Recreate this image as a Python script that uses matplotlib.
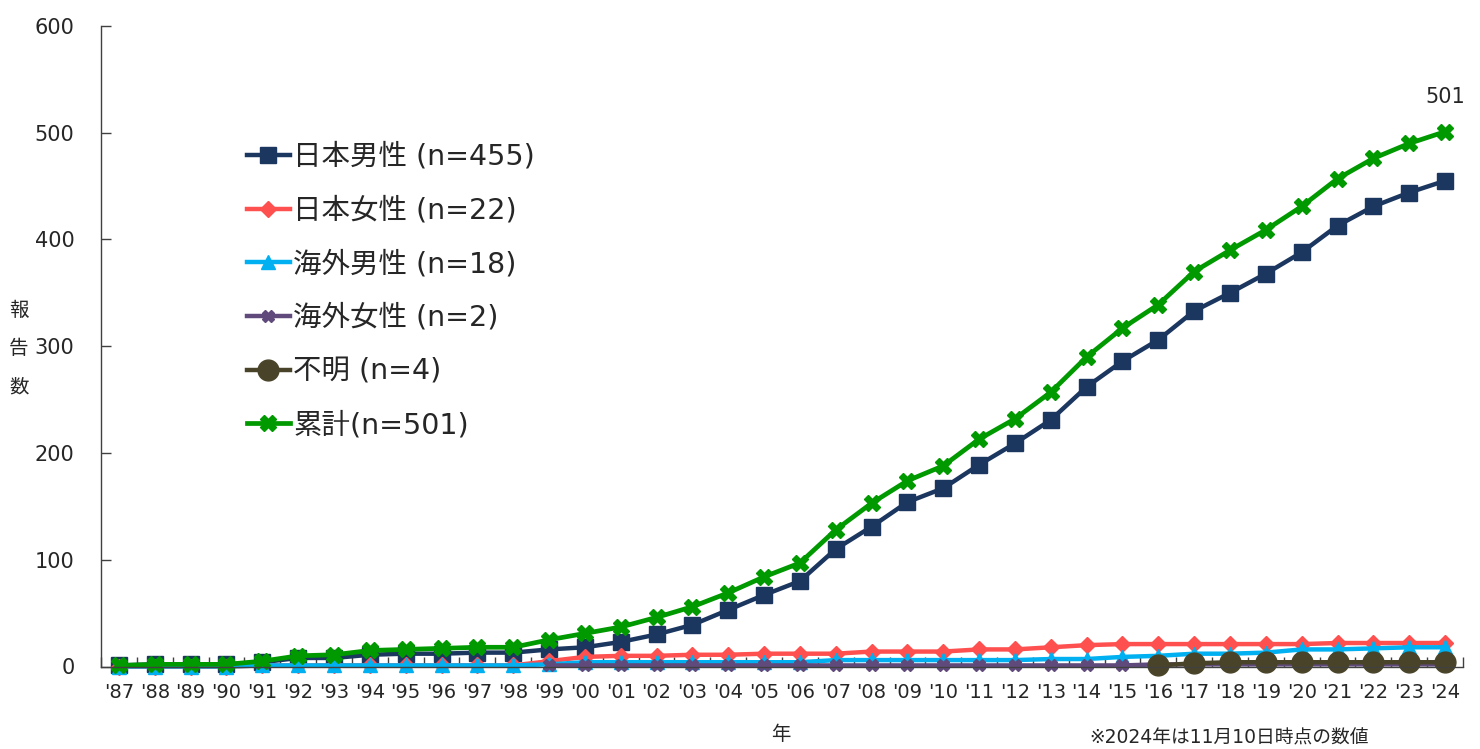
import matplotlib
matplotlib.use("Agg")
import matplotlib.pyplot as plt
import numpy as np

plt.rcParams['font.family'] = ['DejaVu Sans', 'Noto Sans CJK JP']

years = ["'87", "'88", "'89", "'90", "'91", "'92", "'93", "'94", "'95", "'96",
         "'97", "'98", "'99", "'00", "'01", "'02", "'03", "'04", "'05", "'06",
         "'07", "'08", "'09", "'10", "'11", "'12", "'13", "'14", "'15", "'16",
         "'17", "'18", "'19", "'20", "'21", "'22", "'23", "'24"]

jp_male = [1, 2, 2, 2, 4, 8, 8, 11, 12, 12, 13, 13, 16, 18, 23, 30, 39, 53, 67, 80,
           110, 131, 154, 167, 189, 209, 231, 262, 286, 306, 333, 350, 368, 388, 413, 431, 444, 455]
jp_female = [0, 0, 0, 0, 1, 1, 1, 1, 1, 1, 1, 1, 5, 9, 10, 10, 11, 11, 12, 12,
             12, 14, 14, 14, 16, 16, 18, 20, 21, 21, 21, 21, 21, 21, 22, 22, 22, 22]
ov_male = [0, 0, 0, 0, 1, 1, 1, 1, 1, 1, 1, 1, 2, 4, 4, 4, 4, 4, 4, 4,
           6, 6, 6, 6, 6, 6, 7, 7, 9, 10, 12, 12, 13, 16, 16, 17, 18, 18]
ov_female = [None] * 12 + [1, 1, 1, 1, 1, 1, 1, 1, 1, 1, 1, 1, 1, 1, 1, 1, 1, 2, 2, 2, 2, 2, 2, 2, 2, 2]
unknown = [None] * 29 + [1, 3, 4, 4, 4, 4, 4, 4, 4]
total = [1, 2, 2, 2, 5, 10, 11, 15, 16, 17, 18, 18, 25, 31, 37, 46, 56, 69, 84, 97,
         128, 153, 174, 188, 213, 232, 257, 290, 317, 339, 370, 390, 409, 431, 457, 476, 490, 501]

labels = ["日本男性 (n=455)", "日本女性 (n=22)", "海外男性 (n=18)",
          "海外女性 (n=2)", "不明 (n=4)", "累計(n=501)"]
yticks = [0, 100, 200, 300, 400, 500, 600]

def arr(v):
    return np.array([np.nan if x is None else x for x in v], dtype=float)

fig = plt.figure(figsize=(14.8, 7.49), dpi=100)
ax = fig.add_axes([101/1480, 1 - 666.5/749, (1463-101)/1480, (666.5-26)/749])

x = np.arange(len(years))
styles = [
    (jp_male, '#1B365F', 's', 11, 3.2),
    (jp_female, '#FF5050', 'D', 8, 3.2),
    (ov_male, '#00B0F0', '^', 9.5, 3.2),
    (ov_female, '#604A7B', 'X', 9, 3.2),
    (unknown, '#494429', 'o', 15, 3.2),
    (total, '#009900', 'X', 11, 3.4),
]
for (vals, col, mk, ms, lw), lab in zip(styles, labels):
    ax.plot(x, arr(vals), color=col, marker=mk, markersize=ms, linewidth=lw,
            markeredgecolor=col, label=lab, solid_joinstyle='round', clip_on=False)

ax.set_xlim(-0.5, len(years) - 0.5)
ax.set_ylim(0, 600)
ax.set_yticks(yticks)
ax.set_yticklabels([str(v) for v in yticks], fontsize=15, color='#262626')
ax.tick_params(axis='y', direction='in', length=7, width=1, pad=19, colors='#404040', labelcolor='#262626')

ax.set_xticks(np.arange(-0.5, len(years), 1.0))
ax.set_xticklabels([])
ax.set_xticks(x, minor=True)
ax.set_xticklabels(years, minor=True, fontsize=14, color='#262626')
ax.tick_params(axis='x', which='major', direction='in', length=7, width=1, colors='#404040')
ax.tick_params(axis='x', which='minor', length=0, pad=12)

for s in ['top', 'right']:
    ax.spines[s].set_visible(False)
for s in ['left', 'bottom']:
    ax.spines[s].set_color('#404040')
    ax.spines[s].set_linewidth(1)

ax.annotate(str(total[-1]), xy=(x[-1], total[-1]), xytext=(0, 18), textcoords='offset points',
            ha='center', va='bottom', fontsize=15, color='#262626')

leg = ax.legend(loc='upper left', bbox_to_anchor=(247/1480, 1 - 143/749),
                bbox_transform=fig.transFigure, frameon=False, fontsize=20.5,
                handlelength=1.5, handletextpad=0.12, labelspacing=0.9,
                borderpad=0, borderaxespad=0)
for t in leg.get_texts():
    t.set_color('#262626')

fig.text(19/1480, 1 - 349/749, "報\n告\n数", ha='center', va='center', fontsize=14,
         color='#262626', linespacing=2.28)
fig.text(781/1480, 1 - 735/749, "年", ha='center', va='center', fontsize=14, color='#262626')
fig.text(1089/1480, 1.5/749, "※2024年は11月10日時点の数値", ha='left', va='bottom',
         fontsize=13.5, color='#262626')

fig.savefig("out.png", dpi=100)
